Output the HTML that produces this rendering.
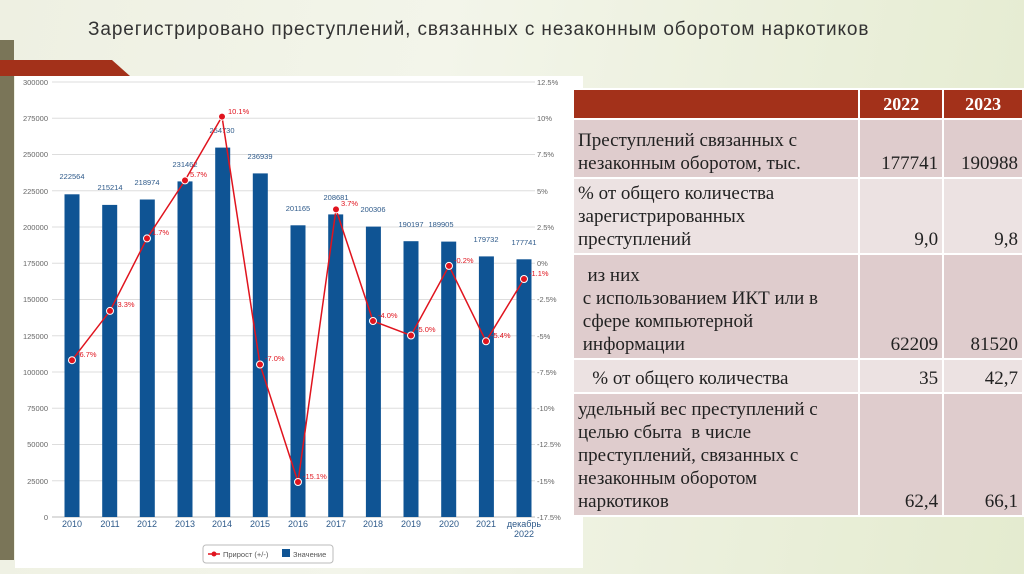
<!DOCTYPE html>
<html><head><meta charset="utf-8"><style>
body{margin:0;width:1024px;height:574px;overflow:hidden;position:relative;font-family:"Liberation Sans",sans-serif;background:linear-gradient(100deg,#eef0e2 0%,#f3f5ea 40%,#e4ebcf 100%);}
.title{position:absolute;left:88px;top:19px;font-size:19px;letter-spacing:0.9px;color:#333;white-space:nowrap;}
table{position:absolute;left:572px;top:88px;border-collapse:collapse;font-family:"Liberation Serif",serif;font-size:19px;color:#222;}
td{border:2px solid #fff;vertical-align:bottom;padding:2px 4px;line-height:23px;}
td.n{text-align:right;}
tr.h td{background:#a3311a;color:#fff;font-weight:bold;text-align:center;vertical-align:middle;font-size:18px;}
.d td{background:#dfcccd}.l td{background:#ece2e2}
</style></head><body>
<div style="position:absolute;left:0;top:40px;width:14px;height:520px;background:#7a7558"></div>
<svg width="1024" height="574" style="position:absolute;left:0;top:0" font-family="Liberation Sans,sans-serif">
<polygon points="0,60 112,60 130,76 0,76" fill="#a3311a"/>
<rect x="15" y="76" width="568" height="492" fill="#fff"/>
<g stroke="#ddd" stroke-width="1">
<line x1="52" x2="535" y1="82" y2="82"/><line x1="52" x2="535" y1="118.25" y2="118.25"/><line x1="52" x2="535" y1="154.5" y2="154.5"/><line x1="52" x2="535" y1="190.75" y2="190.75"/><line x1="52" x2="535" y1="227" y2="227"/><line x1="52" x2="535" y1="263.25" y2="263.25"/><line x1="52" x2="535" y1="299.5" y2="299.5"/><line x1="52" x2="535" y1="335.75" y2="335.75"/><line x1="52" x2="535" y1="372" y2="372"/><line x1="52" x2="535" y1="408.25" y2="408.25"/><line x1="52" x2="535" y1="444.5" y2="444.5"/><line x1="52" x2="535" y1="480.75" y2="480.75"/><line x1="52" x2="535" y1="517" y2="517" stroke="#bbb"/>
</g>
<g font-size="7.5" fill="#666" text-anchor="end">
<text x="48" y="85">300000</text><text x="48" y="121">275000</text><text x="48" y="157">250000</text><text x="48" y="194">225000</text><text x="48" y="230">200000</text><text x="48" y="266">175000</text><text x="48" y="302">150000</text><text x="48" y="339">125000</text><text x="48" y="375">100000</text><text x="48" y="411">75000</text><text x="48" y="447">50000</text><text x="48" y="484">25000</text><text x="48" y="520">0</text>
</g>
<g font-size="7.5" fill="#666">
<text x="537" y="85">12.5%</text><text x="537" y="121">10%</text><text x="537" y="157">7.5%</text><text x="537" y="194">5%</text><text x="537" y="230">2.5%</text><text x="537" y="266">0%</text><text x="537" y="302">-2.5%</text><text x="537" y="339">-5%</text><text x="537" y="375">-7.5%</text><text x="537" y="411">-10%</text><text x="537" y="447">-12.5%</text><text x="537" y="484">-15%</text><text x="537" y="520">-17.5%</text>
</g>
<g fill="#0f5494">
<rect x="64.5" y="194.3" width="15" height="322.7"/>
<rect x="102.2" y="204.9" width="15" height="312.1"/>
<rect x="139.8" y="199.5" width="15" height="317.5"/>
<rect x="177.5" y="181.4" width="15" height="335.6"/>
<rect x="215.2" y="147.6" width="15" height="369.4"/>
<rect x="252.8" y="173.4" width="15" height="343.6"/>
<rect x="290.5" y="225.3" width="15" height="291.7"/>
<rect x="328.2" y="214.4" width="15" height="302.6"/>
<rect x="365.9" y="226.6" width="15" height="290.4"/>
<rect x="403.5" y="241.2" width="15" height="275.8"/>
<rect x="441.2" y="241.6" width="15" height="275.4"/>
<rect x="478.9" y="256.4" width="15" height="260.6"/>
<rect x="516.5" y="259.3" width="15" height="257.7"/>
</g>
<g font-size="7.5" fill="#2e5a8a" text-anchor="middle">
<text x="72" y="179">222564</text><text x="110" y="190">215214</text><text x="147" y="185">218974</text><text x="185" y="167">231462</text><text x="222" y="133">254730</text><text x="260" y="159">236939</text><text x="298" y="211">201165</text><text x="336" y="200">208681</text><text x="373" y="212">200306</text><text x="411" y="227">190197</text><text x="441" y="227">189905</text><text x="486" y="242">179732</text><text x="524" y="245">177741</text>
</g>
<polyline fill="none" stroke="#e0141e" stroke-width="1.5" points="72,360.2 110,310.9 147,238.4 185,180.4 222,116.6 260,364.5 298,482 336,209.4 373,321 411,335.5 449,265.9 486,341.3 524,279"/>
<g fill="#e0141e" stroke="#fff" stroke-width="1">
<circle cx="72" cy="360.2" r="3.5"/><circle cx="110" cy="310.9" r="3.5"/><circle cx="147" cy="238.4" r="3.5"/><circle cx="185" cy="180.4" r="3.5"/><circle cx="222" cy="116.6" r="3.5"/><circle cx="260" cy="364.5" r="3.5"/><circle cx="298" cy="482" r="3.5"/><circle cx="336" cy="209.4" r="3.5"/><circle cx="373" cy="321" r="3.5"/><circle cx="411" cy="335.5" r="3.5"/><circle cx="449" cy="265.9" r="3.5"/><circle cx="486" cy="341.3" r="3.5"/><circle cx="524" cy="279" r="3.5"/>
</g>
<g font-size="7.5" fill="#e0141e">
<text x="77" y="357">-6.7%</text><text x="115" y="307">-3.3%</text><text x="152" y="235">1.7%</text><text x="190" y="177">5.7%</text><text x="228" y="114">10.1%</text><text x="265" y="361">-7.0%</text><text x="303" y="479">-15.1%</text><text x="341" y="206">3.7%</text><text x="378" y="318">-4.0%</text><text x="416" y="332">-5.0%</text><text x="454" y="263">-0.2%</text><text x="491" y="338">-5.4%</text><text x="529" y="276">-1.1%</text>
</g>
<g font-size="9" fill="#2e5a8a" text-anchor="middle">
<text x="72" y="527">2010</text><text x="110" y="527">2011</text><text x="147" y="527">2012</text><text x="185" y="527">2013</text><text x="222" y="527">2014</text><text x="260" y="527">2015</text><text x="298" y="527">2016</text><text x="336" y="527">2017</text><text x="373" y="527">2018</text><text x="411" y="527">2019</text><text x="449" y="527">2020</text><text x="486" y="527">2021</text><text x="524" y="527">декабрь</text><text x="524" y="537">2022</text>
</g>
<rect x="203" y="545" width="130" height="18" rx="3" fill="#fff" stroke="#bbb"/>
<line x1="208" x2="220" y1="554" y2="554" stroke="#e0141e" stroke-width="1.5"/><circle cx="214" cy="554" r="2.5" fill="#e0141e"/>
<text x="223" y="557" font-size="7.5" fill="#555">Прирост (+/-)</text>
<rect x="282" y="549" width="8" height="8" fill="#0f5494"/>
<text x="293" y="557" font-size="7.5" fill="#555">Значение</text>
</svg>
<div class="title">Зарегистрировано преступлений, связанных с незаконным оборотом наркотиков</div>
<table>
<tr class="h" style="height:30px"><td style="width:278px"></td><td style="width:74px">2022</td><td style="width:70px">2023</td></tr>
<tr class="d" style="height:59px"><td>Преступлений связанных с<br>незаконным оборотом, тыс.</td><td class="n">177741</td><td class="n">190988</td></tr>
<tr class="l" style="height:76px"><td>% от общего количества<br>зарегистрированных<br>преступлений</td><td class="n">9,0</td><td class="n">9,8</td></tr>
<tr class="d" style="height:105px"><td>&nbsp;&nbsp;из них<br>&nbsp;с использованием ИКТ или в<br>&nbsp;сфере компьютерной<br>&nbsp;информации</td><td class="n">62209</td><td class="n">81520</td></tr>
<tr class="l" style="height:34px"><td>&nbsp;&nbsp;&nbsp;% от общего количества</td><td class="n">35</td><td class="n">42,7</td></tr>
<tr class="d" style="height:123px"><td>удельный вес преступлений с<br>целью сбыта&nbsp; в числе<br>преступлений, связанных с<br>незаконным оборотом<br>наркотиков</td><td class="n">62,4</td><td class="n">66,1</td></tr>
</table>
</body></html>
